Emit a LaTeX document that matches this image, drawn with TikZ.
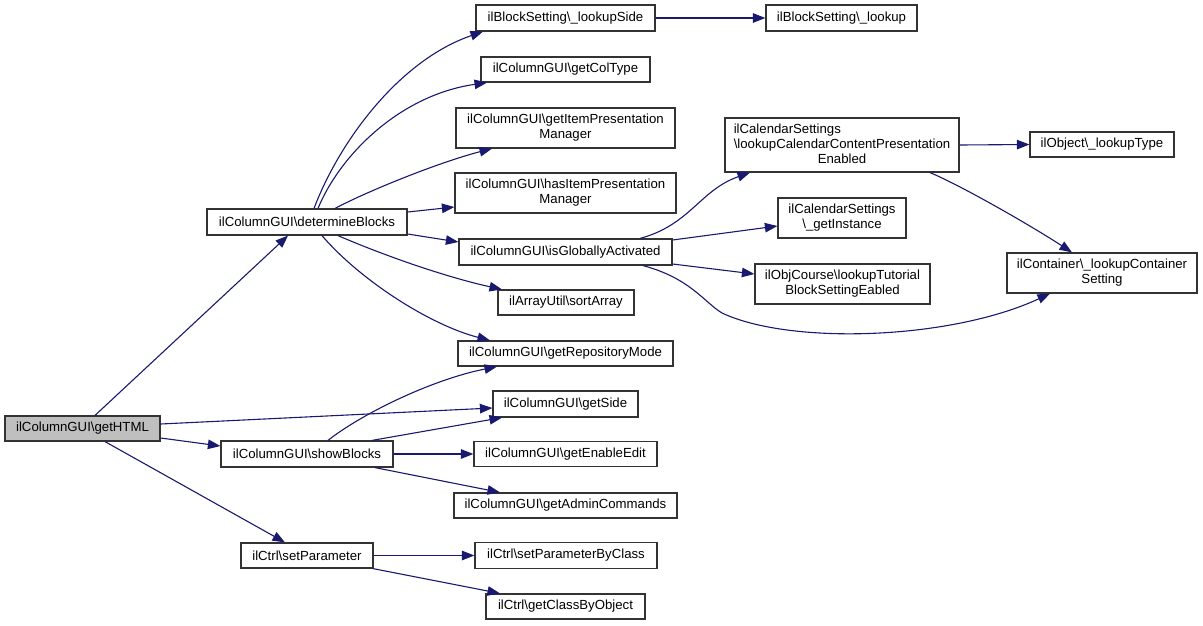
\documentclass[tikz,border=0pt]{standalone}
\usepackage{fontspec}
\setmainfont{Liberation Sans}
\usetikzlibrary{arrows.meta}
\definecolor{edgeblue}{HTML}{191970}
\definecolor{boxgray}{HTML}{BFBFBF}
\definecolor{boxline}{HTML}{333333}
\tikzset{
  fn/.style={draw=boxline, line width=1.2pt, rectangle, inner sep=0pt, align=center,
    font=\fontsize{13.2}{15}\selectfont, text=black, fill=white},
  call/.style={draw=edgeblue, line width=1.1pt, -{Triangle[length=12.5pt,width=9.5pt]}},
}
\newcommand{\bs}{\textbackslash}
\begin{document}
\begin{tikzpicture}[x=1pt,y=-1pt]
\useasboundingbox[fill=white] (0,0) rectangle (1203,625);
% column 1
\node[fn, fill=boxgray, minimum width=155pt, minimum height=25pt] (gethtml) at (82.5,428.5) {ilColumnGUI\bs getHTML};
% column 2
\node[fn, minimum width=200pt, minimum height=26pt] (det) at (307,222) {ilColumnGUI\bs determineBlocks};
\node[fn, minimum width=172pt, minimum height=26pt] (show) at (307,454) {ilColumnGUI\bs showBlocks};
\node[fn, minimum width=132pt, minimum height=25pt] (setp) at (307,555.5) {ilCtrl\bs setParameter};
% column 3
\node[fn, minimum width=179pt, minimum height=26pt] (lside) at (565.5,18) {ilBlockSetting\bs\_lookupSide};
\node[fn, minimum width=169pt, minimum height=25pt] (coltype) at (565.5,69.5) {ilColumnGUI\bs getColType};
\node[fn, minimum width=219pt, minimum height=40pt] (getipm) at (565.5,128) {ilColumnGUI\bs getItemPresentation\\Manager};
\node[fn, minimum width=221pt, minimum height=40pt] (hasipm) at (565.5,193) {ilColumnGUI\bs hasItemPresentation\\Manager};
\node[fn, minimum width=213pt, minimum height=26pt] (isglob) at (565.5,252) {ilColumnGUI\bs isGloballyActivated};
\node[fn, minimum width=136pt, minimum height=25pt] (sort) at (566,302.5) {ilArrayUtil\bs sortArray};
\node[fn, minimum width=215pt, minimum height=25pt] (repo) at (565.5,353.5) {ilColumnGUI\bs getRepositoryMode};
\node[fn, minimum width=145pt, minimum height=26pt] (side) at (565.5,404) {ilColumnGUI\bs getSide};
\node[fn, minimum width=183pt, minimum height=25pt] (enable) at (565.5,454) {ilColumnGUI\bs getEnableEdit};
\node[fn, minimum width=223pt, minimum height=25pt] (admin) at (565.5,505.5) {ilColumnGUI\bs getAdminCommands};
\node[fn, minimum width=182pt, minimum height=26pt] (spbc) at (566,555.5) {ilCtrl\bs setParameterByClass};
\node[fn, minimum width=159pt, minimum height=25pt] (gcbo) at (565.5,606.5) {ilCtrl\bs getClassByObject};
% column 4
\node[fn, minimum width=151pt, minimum height=26pt] (lookup) at (841.5,18) {ilBlockSetting\bs\_lookup};
\node[fn, minimum width=234pt, minimum height=54pt] (calcont) at (842,145) {\begin{tabular}{@{}l@{}}ilCalendarSettings\\\bs lookupCalendarContentPresentation\\\multicolumn{1}{@{}c@{}}{Enabled}\end{tabular}};
\node[fn, minimum width=128pt, minimum height=40pt] (getinst) at (842,218) {ilCalendarSettings\\\bs\_getInstance};
\node[fn, minimum width=175pt, minimum height=40pt] (tutorial) at (842.5,284) {ilObjCourse\bs lookupTutorial\\BlockSettingEabled};
% column 5
\node[fn, minimum width=144pt, minimum height=25pt] (ltype) at (1102,144.5) {ilObject\bs\_lookupType};
\node[fn, minimum width=190pt, minimum height=40pt] (contset) at (1102,273) {ilContainer\bs\_lookupContainer\\Setting};
% edges from getHTML
\draw[call] ([xshift=12.5pt]gethtml.north) -- ([xshift=-19pt]det.south);
\draw[call] ([yshift=4.5pt]gethtml.east) -- ([yshift=-4pt]side.west);
\draw[call] ([yshift=-9.5pt]gethtml.east) -- ([yshift=8pt]show.west);
\draw[call] ([xshift=22.5pt]gethtml.south) -- ([xshift=-22pt]setp.north);
% edges from determineBlocks
\draw[call] ([xshift=7pt]det.north) .. controls (340,140) and (400,60) .. ([xshift=-82.5pt]lside.south);
\draw[call] ([xshift=11pt]det.north) .. controls (340,155) and (400,95) .. ([xshift=-78.5pt]coltype.south);
\draw[call] ([xshift=28pt]det.north) .. controls (370,190) and (440,162) .. ([xshift=-73.5pt]getipm.south);
\draw[call] ([yshift=10pt]det.east) -- ([yshift=-14pt]hasipm.west);
\draw[call] ([yshift=-12pt]det.east) -- ([yshift=10pt]isglob.west);
\draw[call] ([xshift=31pt]det.south) .. controls (390,258) and (450,278) .. ([xshift=-64pt]sort.north);
\draw[call] ([xshift=15pt]det.south) .. controls (360,280) and (430,325) .. ([xshift=-75.5pt]repo.north);
% edges from showBlocks
\draw[call] ([xshift=21pt]show.north) .. controls (360,415) and (430,380) .. ([xshift=-68.5pt]repo.south);
\draw[call] ([xshift=65pt]show.north) -- ([xshift=-63.5pt]side.south);
\draw[call] (show.east) -- (enable.west);
\draw[call] ([xshift=68pt]show.south) -- ([xshift=-65.5pt]admin.north);
% edges from setParameter
\draw[call] (setp.east) -- (spbc.west);
\draw[call] ([xshift=66pt]setp.south) -- ([xshift=-65.5pt]gcbo.north);
% edges from third column
\draw[call] (lside.east) -- (lookup.west);
\draw[call] ([xshift=74.5pt]isglob.north) .. controls (690,225) and (700,190) .. ([xshift=-92pt]calcont.south);
\draw[call] ([yshift=12pt]isglob.east) -- ([yshift=-8pt]getinst.west);
\draw[call] ([yshift=-12pt]isglob.east) -- ([yshift=10pt]tutorial.west);
\draw[call] ([xshift=77.5pt]isglob.south) .. controls (690,278) and (705,303) .. (722,313) .. controls (790,345) and (950,340) .. ([xshift=-52pt]contset.south);
% edges from fourth column
\draw[call] (calcont.east) -- (ltype.west);
\draw[call] ([xshift=88pt]calcont.south) .. controls (960,185) and (1030,225) .. ([xshift=-30pt]contset.north);
\end{tikzpicture}
\end{document}
